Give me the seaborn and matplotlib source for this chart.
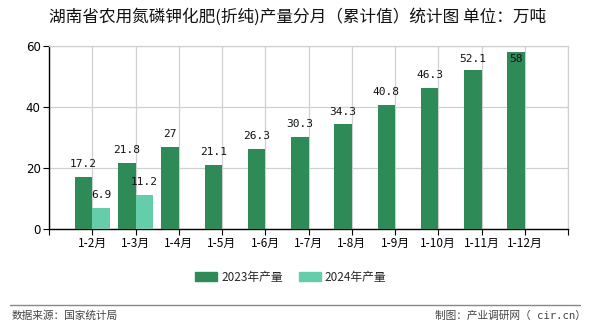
import numpy as np
import pandas as pd
import matplotlib
matplotlib.use("Agg")
import matplotlib.pyplot as plt
import seaborn as sns

months = ["1-2月", "1-3月", "1-4月", "1-5月", "1-6月", "1-7月", "1-8月",
          "1-9月", "1-10月", "1-11月", "1-12月"]
vals_2023 = [17.2, 21.8, 27, 21.1, 26.3, 30.3, 34.3, 40.8, 46.3, 52.1, 58]
vals_2024 = [6.9, 11.2, None, None, None, None, None, None, None, None, None]
series = ["2023年产量", "2024年产量"]
colors = ["#2E8B57", "#66CDAA"]
yticks = [0, 20, 40, 60]

sns.set_theme(style="white")
plt.rcParams["font.family"] = ["Noto Sans CJK SC", "DejaVu Sans"]
plt.rcParams["axes.unicode_minus"] = False

rows = []
for m, a, b in zip(months, vals_2023, vals_2024):
    rows.append({"month": m, "series": series[0], "value": a})
    rows.append({"month": m, "series": series[1], "value": (np.nan if b is None else b)})
df = pd.DataFrame(rows)

fig = plt.figure(figsize=(5.9, 3.3), dpi=100)
ax = fig.add_axes([49/590, 1-229/330, (568-49)/590, (229-46)/330])

sns.barplot(data=df, x="month", y="value", hue="series", order=months,
            hue_order=series, palette=colors, width=0.8, saturation=1,
            errorbar=None, ax=ax, legend=True, zorder=3, linewidth=0,
            edgecolor="none")

ax.set_xlim(-1, len(months))
ax.set_ylim(0, 60)
ax.set_yticks(yticks)
ax.set_yticklabels([str(t) for t in yticks], fontsize=8.5, family="DejaVu Sans")
xt = list(range(-1, len(months) + 1))
ax.set_xticks(xt)
ax.set_xticklabels([""] + months + [""], fontsize=8.5)
ax.set_xlabel("")
ax.set_ylabel("")
ax.grid(True, color="#d0d0d0", linewidth=0.9, zorder=0)
ax.set_axisbelow(True)
for s in ["top", "right"]:
    ax.spines[s].set_color("#d0d0d0")
    ax.spines[s].set_linewidth(0.9)
for s in ["left", "bottom"]:
    ax.spines[s].set_color("black")
    ax.spines[s].set_linewidth(1.0)
ax.tick_params(axis="both", which="both", direction="out", length=4, width=0.8,
               color="black", pad=2, left=True, bottom=True, labelcolor="black")

for cont in ax.containers:
    for p in cont.patches:
        h = p.get_height()
        if h is None or np.isnan(h) or h == 0:
            continue
        y = min(h + 4.1, 55.6)
        label = f"{h:g}"
        ax.text(p.get_x() + p.get_width() / 2, y, label, ha="center", va="center",
                fontsize=8, family="DejaVu Sans Mono", color="#111111", zorder=5)

leg = ax.get_legend()
if leg is not None:
    leg.remove()
handles = [plt.Rectangle((0, 0), 1, 1, color=c) for c in colors]
fig.legend(handles, series, loc="center", bbox_to_anchor=(291/590, 1-277/330),
           ncol=2, frameon=False, fontsize=8.5, handlelength=1.85, handleheight=0.76,
           columnspacing=1.35, handletextpad=0.35)

fig.text(298/590, 1-17/330, "湖南省农用氮磷钾化肥(折纯)产量分月（累计值）统计图 单位：万吨",
         ha="center", va="center", fontsize=12, color="#111111")
fig.add_artist(plt.Line2D([10/590, 580/590], [1-305/330, 1-305/330],
                          color="#888888", linewidth=1.0))
fig.text(12/590, 1-316/330, "数据来源：国家统计局", ha="left", va="center",
         fontsize=7.7, color="#444444")
fig.text(586/590, 1-316/330, "制图：产业调研网（ cir.cn）", ha="right", va="center",
         fontsize=7.7, color="#444444", family=["DejaVu Sans Mono", "Noto Sans CJK SC"])

fig.savefig("out.png", dpi=100)
